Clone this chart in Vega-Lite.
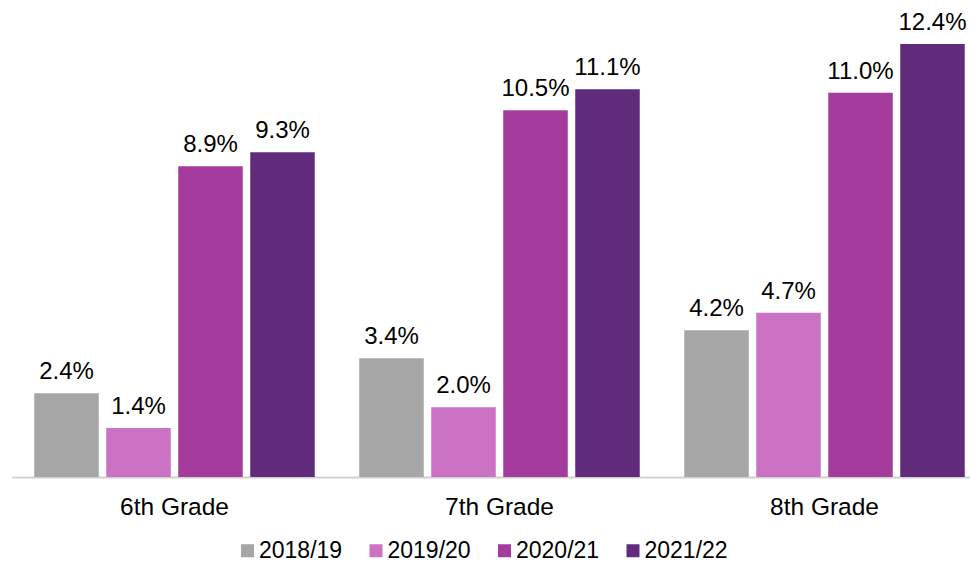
{
  "$schema": "https://vega.github.io/schema/vega-lite/v6.json",
  "width": 958,
  "height": 454,
  "autosize": {"type": "none"},
  "padding": {"left": 12, "top": 23, "right": 0, "bottom": 84},
  "background": "white",
  "config": {"view": {"stroke": null}, "font": "Liberation Sans"},
  "data": {
    "values": [
      {"grade": "6th Grade", "year": "2018/19", "value": 0.024},
      {"grade": "6th Grade", "year": "2019/20", "value": 0.014},
      {"grade": "6th Grade", "year": "2020/21", "value": 0.089},
      {"grade": "6th Grade", "year": "2021/22", "value": 0.093},
      {"grade": "7th Grade", "year": "2018/19", "value": 0.034},
      {"grade": "7th Grade", "year": "2019/20", "value": 0.020},
      {"grade": "7th Grade", "year": "2020/21", "value": 0.105},
      {"grade": "7th Grade", "year": "2021/22", "value": 0.111},
      {"grade": "8th Grade", "year": "2018/19", "value": 0.042},
      {"grade": "8th Grade", "year": "2019/20", "value": 0.047},
      {"grade": "8th Grade", "year": "2020/21", "value": 0.110},
      {"grade": "8th Grade", "year": "2021/22", "value": 0.124}
    ]
  },
  "encoding": {
    "x": {
      "field": "grade",
      "type": "nominal",
      "sort": ["6th Grade", "7th Grade", "8th Grade"],
      "scale": {"range": [0, 975], "paddingInner": 0, "paddingOuter": 0},
      "axis": {
        "title": null,
        "labelAngle": 0,
        "ticks": false,
        "tickSize": 0,
        "labelPadding": 37,
        "labelBaseline": "alphabetic",
        "labelFontSize": 24.5,
        "labelColor": "#000000",
        "domainColor": "#D0D0D0",
        "domainWidth": 2,
        "grid": false
      }
    },
    "xOffset": {
      "field": "year",
      "type": "nominal",
      "sort": ["2018/19", "2019/20", "2020/21", "2021/22"],
      "scale": {"paddingInner": 0.104, "paddingOuter": 0.309}
    },
    "y": {
      "field": "value",
      "type": "quantitative",
      "scale": {"domain": [0, 0.13]},
      "axis": null
    }
  },
  "layer": [
    {
      "mark": {"type": "bar"},
      "encoding": {
        "color": {
          "field": "year",
          "type": "nominal",
          "sort": ["2018/19", "2019/20", "2020/21", "2021/22"],
          "scale": {
            "domain": ["2018/19", "2019/20", "2020/21", "2021/22"],
            "range": ["#A6A6A6", "#CC72C4", "#A43B9D", "#5F2B7A"]
          },
          "legend": {
            "title": null,
            "orient": "none",
            "legendX": 224,
            "legendY": 516,
            "direction": "horizontal",
            "columns": 4,
            "padding": 0,
            "symbolType": "square",
            "symbolSize": 169,
            "symbolStrokeWidth": 0,
            "labelFontSize": 23,
            "labelColor": "#000000",
            "labelOffset": 0,
            "labelLimit": 300,
            "columnPadding": 21.5
          }
        }
      }
    },
    {
      "mark": {"type": "text", "baseline": "alphabetic", "dy": -14, "fontSize": 24, "color": "#000000"},
      "encoding": {"text": {"field": "value", "format": ".1%"}}
    }
  ]
}
